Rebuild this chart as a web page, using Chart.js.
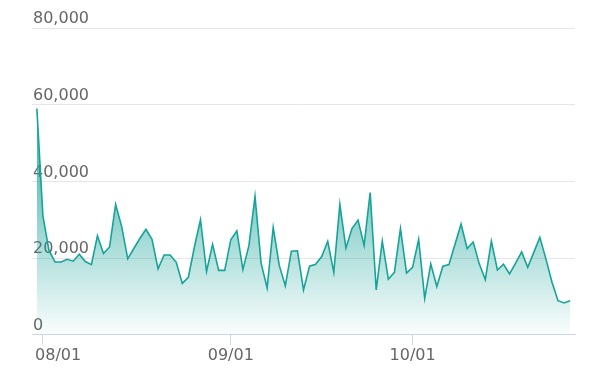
<!DOCTYPE html>
<html>
<head>
<meta charset="utf-8">
<script src="https://cdn.jsdelivr.net/npm/chart.js@4/dist/chart.umd.min.js"></script>
<style>
  html, body { margin: 0; padding: 0; background: #ffffff; }
  #wrap { width: 593px; height: 376px; position: relative; }
</style>
</head>
<body>
<div id="wrap"><canvas id="c"></canvas></div>
<script>
const dates = [
  "07/31",
  "08/01","08/02","08/03","08/04","08/05","08/06","08/07","08/08","08/09","08/10",
  "08/11","08/12","08/13","08/14","08/15","08/16","08/17","08/18","08/19","08/20",
  "08/21","08/22","08/23","08/24","08/25","08/26","08/27","08/28","08/29","08/30","08/31",
  "09/01","09/02","09/03","09/04","09/05","09/06","09/07","09/08","09/09","09/10",
  "09/11","09/12","09/13","09/14","09/15","09/16","09/17","09/18","09/19","09/20",
  "09/21","09/22","09/23","09/24","09/25","09/26","09/27","09/28","09/29","09/30",
  "10/01","10/02","10/03","10/04","10/05","10/06","10/07","10/08","10/09","10/10",
  "10/11","10/12","10/13","10/14","10/15","10/16","10/17","10/18","10/19","10/20",
  "10/21","10/22","10/23","10/24","10/25","10/26","10/27"
];

const values = [
  59000,
  31000, 22000, 19000, 19000, 19700, 19200, 21000, 19100, 18300, 25800,
  21200, 22900, 34000, 28200, 19800, 22500, 25100, 27500, 24900, 17200,
  20800, 20800, 18900, 13400, 15000, 22900, 30000, 16500, 23600, 16800, 16800,
  24800, 27100, 17000, 23300, 36100, 18700, 12200, 28000, 18100, 12800,
  21800, 21900, 11700, 17900, 18400, 20400, 24400, 16300, 34000, 22600,
  27700, 29900, 23300, 37100, 11700, 24400, 14500, 16300, 27700, 16100,
  17600, 24900, 9500, 18500, 12600, 17900, 18300, 23600, 28900, 22500,
  24200, 18500, 14400, 24400, 16900, 18400, 15900, 18700, 21600, 17600,
  21500, 25400, 19800, 13700, 8900, 8300, 8900
];

const xTickLabels = ["08/01", "09/01", "10/01"];
const yTicks = [0, 20000, 40000, 60000, 80000];

const points = values.map((v, i) => ({ x: i, y: v }));
const xTickIdx = xTickLabels.map(l => dates.indexOf(l));

const lineColor = 'rgb(22,163,152)';

new Chart(document.getElementById('c'), {
  type: 'line',
  data: {
    datasets: [{
      data: points,
      borderColor: lineColor,
      borderWidth: 1.6,
      pointRadius: 0,
      tension: 0,
      fill: 'origin',
      backgroundColor: (ctx) => {
        const chart = ctx.chart;
        const area = chart.chartArea;
        if (!area) return 'rgba(22,163,152,0.3)';
        const top = chart.scales.y.getPixelForValue(Math.max(...values));
        const g = chart.ctx.createLinearGradient(0, top, 0, area.bottom);
        g.addColorStop(0, 'rgba(22,163,152,0.9)');
        g.addColorStop(1, 'rgba(22,163,152,0.02)');
        return g;
      }
    }]
  },
  options: {
    responsive: true,
    maintainAspectRatio: false,
    animation: false,
    layout: { padding: { left: 30, right: 18, top: 28, bottom: 10 } },
    plugins: { legend: { display: false }, tooltip: { enabled: false } },
    scales: {
      x: {
        type: 'linear',
        min: -0.8,
        max: 88.8,
        afterBuildTicks: (scale) => { scale.ticks = xTickIdx.map(v => ({ value: v })); },
        ticks: {
          // first label is nudged right (kept inside the plot), as in the original
          callback: (v, i) => (i === 0 ? '\u2007\u2007\u2007' : '') + dates[v],
          color: '#666666',
          font: { family: 'DejaVu Sans', size: 16 },
          padding: 1,
          maxRotation: 0,
          autoSkip: false
        },
        grid: {
          drawOnChartArea: false,
          drawTicks: true,
          tickLength: 10,
          color: '#ccd6eb'
        },
        border: { display: true, color: '#ccd6eb', width: 1 }
      },
      y: {
        min: 0,
        max: 80000,
        afterBuildTicks: (scale) => { scale.ticks = yTicks.map(v => ({ value: v })); },
        ticks: {
          mirror: true,
          padding: 1,
          labelOffset: -9,
          color: '#666666',
          font: { family: 'DejaVu Sans', size: 16 },
          callback: (v) => v.toLocaleString('en-US')
        },
        grid: { color: '#e6e6e6', lineWidth: 1, drawTicks: false },
        border: { display: false }
      }
    }
  }
});
</script>
</body>
</html>
